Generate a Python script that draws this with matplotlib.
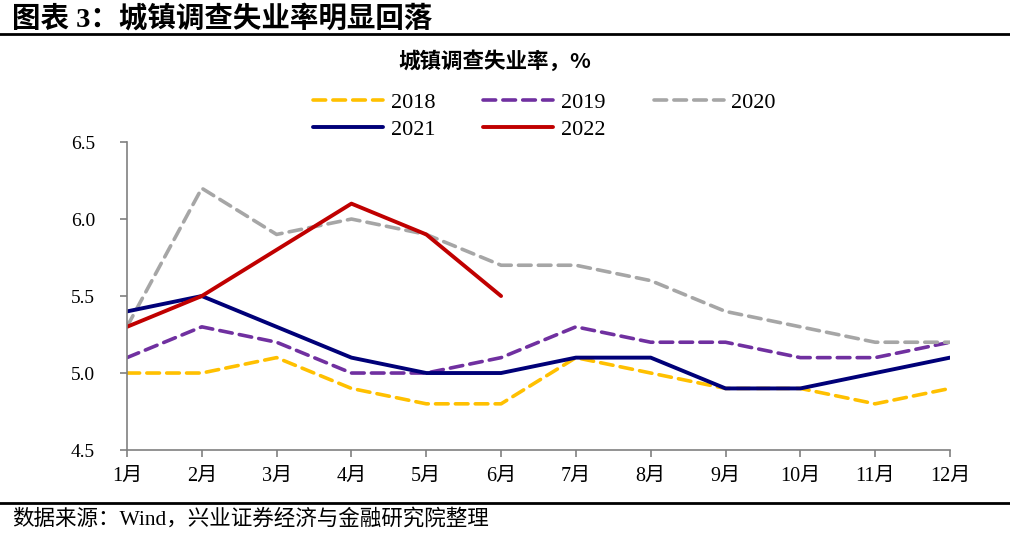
import matplotlib.pyplot as plt
from matplotlib.lines import Line2D

months = ['1月', '2月', '3月', '4月', '5月', '6月', '7月', '8月', '9月', '10月', '11月', '12月']
y2018 = [5.0, 5.0, 5.1, 4.9, 4.8, 4.8, 5.1, 5.0, 4.9, 4.9, 4.8, 4.9]
y2019 = [5.1, 5.3, 5.2, 5.0, 5.0, 5.1, 5.3, 5.2, 5.2, 5.1, 5.1, 5.2]
y2020 = [5.3, 6.2, 5.9, 6.0, 5.9, 5.7, 5.7, 5.6, 5.4, 5.3, 5.2, 5.2]
y2021 = [5.4, 5.5, 5.3, 5.1, 5.0, 5.0, 5.1, 5.1, 4.9, 4.9, 5.0, 5.1]
y2022 = [5.3, 5.5, 5.8, 6.1, 5.9, 5.5]
yticks = [4.5, 5.0, 5.5, 6.0, 6.5]

serif = ['Liberation Serif', 'Noto Sans CJK SC']
cjk = ['Noto Sans CJK SC', 'Liberation Serif']

fig = plt.figure(figsize=(10.1, 5.36), dpi=100)
ax = fig.add_axes([0.1257, 0.1604, 0.8149, 0.5746])

x = list(range(len(months)))
dash = (3.5, 2)
l18, = ax.plot(x, y2018, color='#FFC000', lw=2.6, linestyle=(0, dash), dash_capstyle='round', label='2018')
l19, = ax.plot(x, y2019, color='#7030A0', lw=2.6, linestyle=(0, dash), dash_capstyle='round', label='2019')
l20, = ax.plot(x, y2020, color='#A6A6A6', lw=2.6, linestyle=(0, dash), dash_capstyle='round', label='2020')
l21, = ax.plot(x, y2021, color='#000078', lw=2.8, solid_capstyle='round', label='2021')
l22, = ax.plot(x[:len(y2022)], y2022, color='#C00000', lw=2.8, solid_capstyle='round', label='2022')

ax.set_xlim(0, 11)
ax.set_ylim(4.5, 6.5)
ax.set_yticks(yticks)
ax.set_yticklabels([f'{v:.1f}' for v in yticks], family=serif, fontsize=14)
ax.set_xticks(x)
ax.set_xticklabels(months, family=serif, fontsize=14.5)
for s in ['top', 'right']:
    ax.spines[s].set_visible(False)
for s in ['left', 'bottom']:
    ax.spines[s].set_color('#808080')
    ax.spines[s].set_linewidth(1.2)
ax.tick_params(axis='both', color='#808080', length=5, width=1.2, direction='out')
ax.tick_params(axis='x', pad=7)
ax.tick_params(axis='y', pad=18)

handles = [l18, l21, l19, l22, l20]
fig.legend(handles=handles, labels=[h.get_label() for h in handles], ncol=3,
           loc='center', bbox_to_anchor=(0.539, 0.783), frameon=False,
           prop={'family': serif, 'size': 16}, handlelength=3.15, handletextpad=0.35,
           columnspacing=2.16, labelspacing=0.3)

fig.text(0.49, 0.887, '城镇调查失业率，%', family=cjk, fontsize=15.5, fontweight='bold', ha='center', va='center')
fig.text(0.012, 0.966, '图表 3：城镇调查失业率明显回落', family=serif, fontsize=20.5, fontweight='bold', ha='left', va='center')
fig.text(0.012, 0.032, '数据来源：Wind，兴业证券经济与金融研究院整理', family=serif, fontsize=15.5, ha='left', va='center')

fig.add_artist(Line2D([0, 1], [0.937, 0.937], color='black', lw=2))
fig.add_artist(Line2D([0, 1], [0.062, 0.062], color='black', lw=2))

fig.savefig('out.png', dpi=100)
